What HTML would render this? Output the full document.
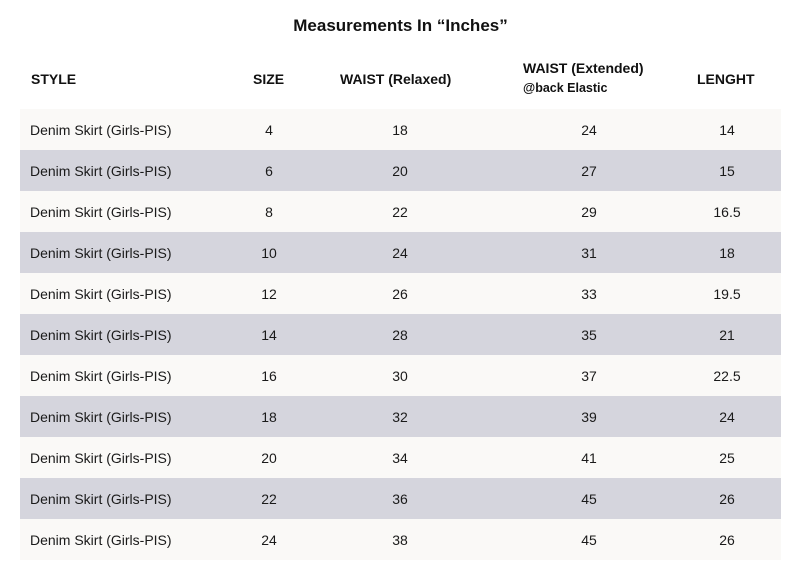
<!DOCTYPE html>
<html><head><style>
body{margin:0;width:801px;height:582px;background:#fff;font-family:"Liberation Sans",sans-serif;color:#1a1a1a;position:relative;overflow:hidden}
.t{position:absolute;top:16px;left:0;width:801px;text-align:center;font-weight:bold;font-size:17px;color:#111}
.h{position:absolute;font-weight:bold;font-size:14px;color:#111}
.row{position:absolute;left:20px;width:761px;height:41px;font-size:14px}
.row span{position:absolute;top:13px;transform:translateX(-50%)}
.row span.s{transform:none;left:10px}
</style></head><body>
<div class="t">Measurements In “Inches”</div>
<div class="h" style="left:31px;top:71px">STYLE</div>
<div class="h" style="left:253px;top:71px">SIZE</div>
<div class="h" style="left:340px;top:71px">WAIST (Relaxed)</div>
<div class="h" style="left:523px;top:60px">WAIST (Extended)</div>
<div class="h" style="left:523px;top:81px;font-size:12.5px">@back Elastic</div>
<div class="h" style="left:697px;top:71px">LENGHT</div>
<div id="rows"></div>
<script>
var d=[[4,18,24,14],[6,20,27,15],[8,22,29,16.5],[10,24,31,18],[12,26,33,19.5],[14,28,35,21],[16,30,37,22.5],[18,32,39,24],[20,34,41,25],[22,36,45,26],[24,38,45,26]];
var h='';d.forEach(function(r,i){h+='<div class="row" style="top:'+(109+41*i)+'px;background:'+(i%2?'#d5d5dd':'#faf9f7')+'"><span class="s">Denim Skirt (Girls-PIS)</span><span style="left:249px">'+r[0]+'</span><span style="left:380px">'+r[1]+'</span><span style="left:569px">'+r[2]+'</span><span style="left:707px">'+r[3]+'</span></div>';});
document.getElementById('rows').innerHTML=h;
</script>
</body></html>
